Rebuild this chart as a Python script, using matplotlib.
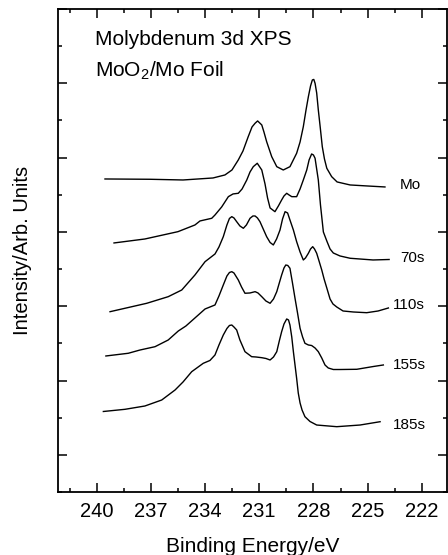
import matplotlib
matplotlib.use("Agg")
import matplotlib.pyplot as plt
from matplotlib.ticker import MultipleLocator

plt.rcParams['font.family'] = ['Liberation Sans', 'DejaVu Sans']
plt.rcParams['mathtext.fontset'] = 'custom'
plt.rcParams['mathtext.rm'] = 'Liberation Sans'
plt.rcParams['mathtext.default'] = 'regular'

# spectra: binding energy (eV) and offset intensity (arb.)
mo_e = [239.54, 237.05, 235.22, 233.56, 232.90, 232.51, 232.16, 231.90, 231.61, 231.40,
        231.23, 231.09, 230.86, 230.74, 230.59, 230.31, 230.03, 229.67, 229.30, 228.93,
        228.74, 228.56, 228.41, 228.28, 228.16, 228.06, 227.98, 227.91, 227.82, 227.73,
        227.62, 227.51, 227.39, 227.26, 226.99, 226.69, 225.97, 225.03, 224.04]
mo_i = [8.425, 8.417, 8.398, 8.452, 8.533, 8.667, 8.937, 9.179, 9.564, 9.825,
        9.925, 9.987, 9.879, 9.690, 9.429, 9.026, 8.756, 8.667, 8.756, 9.117,
        9.421, 9.833, 10.283, 10.641, 10.929, 11.090, 11.104, 11.001, 10.740, 10.283,
        9.798, 9.295, 8.964, 8.713, 8.487, 8.345, 8.264, 8.237, 8.210]

s70_e = [239.04, 237.33, 235.50, 234.56, 234.28, 233.63, 233.45, 233.08, 232.71, 232.45,
         232.16, 231.95, 231.69, 231.51, 231.33, 231.11, 230.86, 230.68, 230.54, 230.40,
         230.13, 229.94, 229.76, 229.63, 229.48, 229.35, 229.20, 228.93, 228.74, 228.56,
         228.37, 228.24, 228.10, 228.00, 227.91, 227.73, 227.61, 227.45, 227.26, 227.08,
         226.90, 226.53, 225.97, 224.70, 223.81]
s70_i = [6.703, 6.810, 7.007, 7.187, 7.295, 7.367, 7.456, 7.672, 7.949, 8.022,
         8.040, 8.156, 8.398, 8.614, 8.756, 8.848, 8.667, 8.291, 7.914, 7.645,
         7.545, 7.699, 7.860, 7.968, 8.040, 7.995, 7.949, 7.949, 8.156, 8.398,
         8.667, 8.937, 9.098, 9.071, 8.983, 8.398, 7.725, 6.999, 6.756, 6.541,
         6.433, 6.353, 6.291, 6.245, 6.258]

s110_e = [239.26, 237.23, 236.04, 235.29, 234.56, 234.00, 233.45, 233.23, 232.99, 232.79,
          232.65, 232.52, 232.40, 232.25, 232.07, 231.88, 231.71, 231.51, 231.35, 231.23,
          231.10, 230.96, 230.78, 230.59, 230.40, 230.22, 230.04, 229.85, 229.71, 229.57,
          229.43, 229.30, 229.11, 228.93, 228.74, 228.56, 228.44, 228.28, 228.16, 228.04,
          227.94, 227.82, 227.69, 227.54, 227.41, 227.26, 227.08, 226.92, 226.71, 226.36,
          225.79, 225.05, 224.42, 223.85]
s110_i = [4.853, 5.079, 5.257, 5.437, 5.841, 6.199, 6.406, 6.595, 6.872, 7.187,
          7.362, 7.411, 7.376, 7.276, 7.160, 7.098, 7.187, 7.367, 7.429, 7.429,
          7.376, 7.276, 7.079, 6.872, 6.716, 6.649, 6.810, 7.052, 7.349, 7.545,
          7.510, 7.322, 7.052, 6.738, 6.460, 6.245, 6.299, 6.425, 6.541, 6.603,
          6.541, 6.425, 6.218, 5.976, 5.734, 5.491, 5.195, 5.061, 4.980, 4.872,
          4.845, 4.826, 4.872, 4.953]

s155_e = [239.49, 238.25, 237.60, 236.77, 236.04, 235.48, 235.06, 234.56, 234.00, 233.45,
          233.23, 232.99, 232.79, 232.65, 232.52, 232.40, 232.16, 231.98, 231.79, 231.51,
          231.23, 231.07, 230.86, 230.63, 230.40, 230.21, 230.03, 229.89, 229.76, 229.63,
          229.53, 229.42, 229.30, 229.16, 229.02, 228.88, 228.74, 228.60, 228.47, 228.28,
          228.10, 227.91, 227.73, 227.54, 227.36, 227.18, 226.90, 226.53, 225.60, 224.68,
          224.13]
s155_i = [3.661, 3.734, 3.822, 3.911, 4.091, 4.334, 4.468, 4.684, 4.926, 5.034,
          5.276, 5.572, 5.814, 5.908, 5.930, 5.895, 5.707, 5.518, 5.349, 5.357,
          5.392, 5.357, 5.257, 5.141, 5.079, 5.195, 5.392, 5.626, 5.841, 6.030,
          6.110, 6.097, 6.022, 5.626, 5.214, 4.818, 4.406, 4.172, 4.003, 3.957,
          3.943, 3.876, 3.777, 3.607, 3.419, 3.338, 3.297, 3.297, 3.303, 3.378,
          3.419]

s185_e = [239.63, 238.43, 237.33, 236.40, 235.66, 235.22, 234.74, 234.10, 233.73, 233.45,
          233.23, 232.99, 232.79, 232.65, 232.52, 232.40, 232.25, 232.07, 231.79, 231.42,
          231.18, 230.86, 230.63, 230.40, 230.21, 230.03, 229.89, 229.76, 229.63, 229.48,
          229.38, 229.30, 229.20, 229.11, 229.02, 228.93, 228.84, 228.74, 228.63, 228.47,
          228.19, 227.82, 226.71, 225.42, 224.31]
s185_i = [2.167, 2.226, 2.315, 2.476, 2.746, 2.961, 3.238, 3.464, 3.540, 3.688,
          3.957, 4.226, 4.401, 4.482, 4.495, 4.441, 4.361, 4.091, 3.777, 3.642,
          3.634, 3.615, 3.594, 3.553, 3.634, 3.777, 4.065, 4.315, 4.522, 4.657,
          4.630, 4.495, 4.172, 3.777, 3.419, 3.061, 2.665, 2.396, 2.207, 2.027,
          1.898, 1.803, 1.758, 1.803, 1.892]

labels = ['Mo', '70s', '110s', '155s', '185s']
label_e = [223.21, 223.21, 223.59, 223.59, 223.59]
label_i = [8.26, 6.30, 5.03, 3.42, 1.80]

fig = plt.figure(figsize=(4.48, 5.55), dpi=100)
ax = fig.add_axes([0.1295, 0.1135, 0.998 - 0.1295, 0.9838 - 0.1135])

for e, i in [(mo_e, mo_i), (s70_e, s70_i), (s110_e, s110_i), (s155_e, s155_i), (s185_e, s185_i)]:
    ax.plot(e, i, color='black', lw=1.0)

for lab, e, i in zip(labels, label_e, label_i):
    ax.text(e, i, lab, fontsize=11, ha='left', va='center')

ax.text(0.095, 0.936, 'Molybdenum 3d XPS', transform=ax.transAxes, fontsize=15, va='center')
ax.text(0.095, 0.872, 'MoO$_2$/Mo Foil', transform=ax.transAxes, fontsize=15, va='center')

ax.set_xlim(242.14, 220.60)
ax.set_ylim(0, 13)
ax.xaxis.set_major_locator(MultipleLocator(3))
ax.xaxis.set_minor_locator(MultipleLocator(1.5))
ax.yaxis.set_major_locator(MultipleLocator(2, offset=1))
ax.yaxis.set_minor_locator(MultipleLocator(1))
ax.set_yticklabels([])
ax.tick_params(which='both', direction='in', top=True, right=True, width=1.1)
ax.tick_params(which='major', length=6.5, labelsize=14.5, pad=7)
ax.tick_params(which='minor', length=3.2)
for s in ax.spines.values():
    s.set_linewidth(1.3)

ax.set_xlabel('Binding Energy/eV', fontsize=15, labelpad=12)
ax.set_ylabel('Intensity/Arb. Units', fontsize=14.5, labelpad=12)

fig.savefig('out.png', dpi=100)
